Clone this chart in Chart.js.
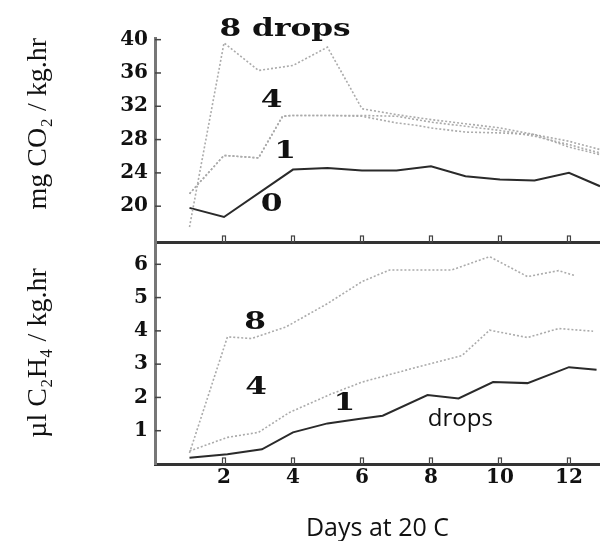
<!DOCTYPE html>
<html>
<head>
<meta charset="utf-8">
<script src="https://cdn.jsdelivr.net/npm/chart.js@4.4.1/dist/chart.umd.min.js"></script>
<style>
  html, body { margin: 0; padding: 0; background: #fff; }
  #wrap { position: relative; width: 600px; height: 541px; }
  #wrap canvas { position: absolute; left: 0; top: 0; }
</style>
</head>
<body>
<div id="wrap">
  <canvas id="co2Chart" width="600" height="541"></canvas>
  <canvas id="ethyleneChart" width="600" height="541"></canvas>
</div>
<script>
// --- data ---
// top panel: CO2 production (mg CO2 / kg.hr)
const co2Days0 = [1, 2, 4, 5, 6, 7, 8, 9, 10, 11, 12, 12.9];
const co2Drops0 = [19.8, 18.7, 24.4, 24.6, 24.3, 24.3, 24.8, 23.6, 23.2, 23.1, 24.0, 22.4];
const co2Days1 = [1, 2, 3, 3.7, 4, 5, 6, 7, 7.6, 8, 9, 10, 11, 12, 12.9];
const co2Drops1 = [21.5, 26.1, 25.8, 30.8, 30.9, 30.9, 30.8, 30.0, 29.7, 29.4, 28.9, 28.8, 28.6, 27.8, 26.8];
const co2Days4 = [1, 2, 3, 3.7, 4, 5, 6, 7, 8, 9, 10, 11, 12, 12.9];
const co2Drops4 = [21.5, 26.1, 25.8, 30.8, 30.9, 30.9, 30.9, 30.8, 30.1, 29.6, 29.1, 28.4, 27.4, 26.4];
const co2Days8 = [1, 2, 3, 4, 5, 6, 7, 8, 9, 10, 11, 12, 12.9];
const co2Drops8 = [17.5, 39.6, 36.3, 36.9, 39.1, 31.7, 31.0, 30.4, 29.9, 29.4, 28.6, 27.1, 26.2];

// bottom panel: ethylene production (ul C2H4 / kg.hr)
const ethDays1 = [1.0, 2.1, 3.1, 4.0, 5.0, 5.9, 6.6, 7.9, 8.8, 9.8, 10.8, 12.0, 12.8];
const ethDrops1 = [0.19, 0.29, 0.44, 0.95, 1.22, 1.35, 1.45, 2.07, 1.97, 2.46, 2.43, 2.91, 2.83];
const ethDays4 = [1.0, 2.1, 3.0, 3.9, 5.1, 6.0, 7.6, 8.9, 9.7, 10.8, 11.7, 12.7];
const ethDrops4 = [0.39, 0.80, 0.95, 1.55, 2.10, 2.46, 2.91, 3.26, 4.02, 3.80, 4.07, 3.99];
const ethDays8 = [1.0, 2.1, 2.8, 3.8, 5.0, 6.0, 6.8, 8.6, 9.7, 10.8, 11.7, 12.2];
const ethDrops8 = [0.33, 3.82, 3.77, 4.12, 4.82, 5.48, 5.83, 5.83, 6.23, 5.63, 5.81, 5.65];

// tick labels
const dayTicks = [2, 4, 6, 8, 10, 12];
const co2Ticks = [20, 24, 28, 32, 36, 40];
const ethTicks = [1, 2, 3, 4, 5, 6];

// in-plot labels (placed in data units)
const co2Notes = [
  { text: '8 drops', day: 3.77, value: 41.25 },
  { text: '4', day: 3.38, value: 32.74 },
  { text: '1', day: 3.77, value: 26.6 },
  { text: '0', day: 3.38, value: 20.25 }
];
const ethNotes = [
  { text: '8', day: 2.9, value: 4.26 },
  { text: '4', day: 2.93, value: 2.30 },
  { text: '1', day: 5.49, value: 1.81 },
  { text: 'drops', day: 8.85, value: 1.36, sans: true }
];

const serifBold = 'bold 25px "DejaVu Serif", "Liberation Serif", serif';
const sansFont = '24px "Open Sans", "Liberation Sans", sans-serif';

function points(days, values) {
  return days.map((d, i) => ({ x: d, y: values[i] }));
}

function solidSet(days, values) {
  return { data: points(days, values), borderColor: '#2a2a2a', borderWidth: 2, pointRadius: 0, tension: 0 };
}
function dottedSet(days, values) {
  return { data: points(days, values), borderColor: '#ababab', borderWidth: 1.6, borderDash: [2, 2], pointRadius: 0, tension: 0 };
}

// little tick marks pointing into the plot, plus the written labels
const innerTicks = {
  id: 'innerTicks',
  afterDraw(chart) {
    const ctx = chart.ctx, xs = chart.scales.x, ys = chart.scales.y, area = chart.chartArea;
    ctx.save();
    ctx.strokeStyle = '#444';
    ctx.lineWidth = 1.5;
    ys.ticks.forEach(t => {
      const py = ys.getPixelForValue(t.value);
      ctx.beginPath(); ctx.moveTo(area.left, py); ctx.lineTo(area.left + 6, py); ctx.stroke();
    });
    ctx.lineWidth = 1.2;
    xs.ticks.forEach(t => {
      const px = xs.getPixelForValue(t.value);
      ctx.strokeRect(px - 1.5, area.bottom - 6, 3, 6);
    });
    const notes = chart.options.plugins.innerTicks.notes;
    ctx.fillStyle = '#111';
    ctx.textAlign = 'center';
    ctx.textBaseline = 'middle';
    notes.forEach(n => {
      const px = xs.getPixelForValue(n.day), py = ys.getPixelForValue(n.value);
      ctx.save();
      ctx.translate(px, py);
      if (n.sans) {
        ctx.font = sansFont;
      } else {
        ctx.font = serifBold;
        ctx.scale(1.25, 1);
      }
      ctx.fillText(n.text, 0, 0);
      ctx.restore();
    });
    ctx.restore();
  }
};

const tickFont = { family: '"DejaVu Serif", "Liberation Serif", serif', size: 20, weight: 'bold' };

function xScale(showLabels, height) {
  return {
    type: 'linear', min: 0, max: 12.9,
    afterBuildTicks: s => { s.ticks = dayTicks.map(v => ({ value: v })); },
    afterFit: s => { s.height = height; },
    grid: { display: false, drawTicks: false },
    border: { display: true, color: '#333', width: 3 },
    ticks: { display: showLabels, color: '#111', font: tickFont, padding: 2, maxRotation: 0 },
    title: showLabels ? {
      display: true, text: 'Days at 20 C', color: '#111',
      font: { family: '"Open Sans", "Liberation Sans", sans-serif', size: 25, lineHeight: 1 },
      padding: { top: 0, bottom: 0 }
    } : { display: false }
  };
}

function yScale(min, max, tickList, titleText, titleAlign) {
  return {
    type: 'linear', min: min, max: max,
    afterBuildTicks: s => { s.ticks = tickList.map(v => ({ value: v })); },
    afterFit: s => { s.width = 155; },
    grid: { display: false, drawTicks: false },
    border: { display: true, color: '#777', width: 3 },
    ticks: { color: '#111', font: tickFont, padding: 7 },
    title: {
      display: true, text: titleText, color: '#111', align: titleAlign,
      font: { family: '"Liberation Serif", "DejaVu Serif", serif', size: 28, lineHeight: 1.2 },
      padding: { top: 22, bottom: 0 }
    }
  };
}

new Chart(document.getElementById('co2Chart'), {
  type: 'line',
  data: {
    datasets: [
      dottedSet(co2Days8, co2Drops8),
      dottedSet(co2Days4, co2Drops4),
      dottedSet(co2Days1, co2Drops1),
      solidSet(co2Days0, co2Drops0)
    ]
  },
  options: {
    responsive: false, animation: false, devicePixelRatio: 1,
    layout: { padding: { top: 38, bottom: 299, left: 0, right: 0 } },
    scales: {
      x: xScale(false, 0),
      y: yScale(15.7, 40.2, co2Ticks, 'mg CO\u2082 / kg.hr', 'end')
    },
    plugins: { legend: { display: false }, tooltip: { enabled: false }, innerTicks: { notes: co2Notes } }
  },
  plugins: [innerTicks]
});

new Chart(document.getElementById('ethyleneChart'), {
  type: 'line',
  data: {
    datasets: [
      dottedSet(ethDays8, ethDrops8),
      dottedSet(ethDays4, ethDrops4),
      solidSet(ethDays1, ethDrops1)
    ]
  },
  options: {
    responsive: false, animation: false, devicePixelRatio: 1,
    layout: { padding: { top: 242, bottom: 0, left: 0, right: 0 } },
    scales: {
      x: xScale(true, 77),
      y: yScale(0, 6.67, ethTicks, '\u00b5l C\u2082H\u2084 / kg.hr', 'center')
    },
    plugins: { legend: { display: false }, tooltip: { enabled: false }, innerTicks: { notes: ethNotes } }
  },
  plugins: [innerTicks]
});
</script>
</body>
</html>
